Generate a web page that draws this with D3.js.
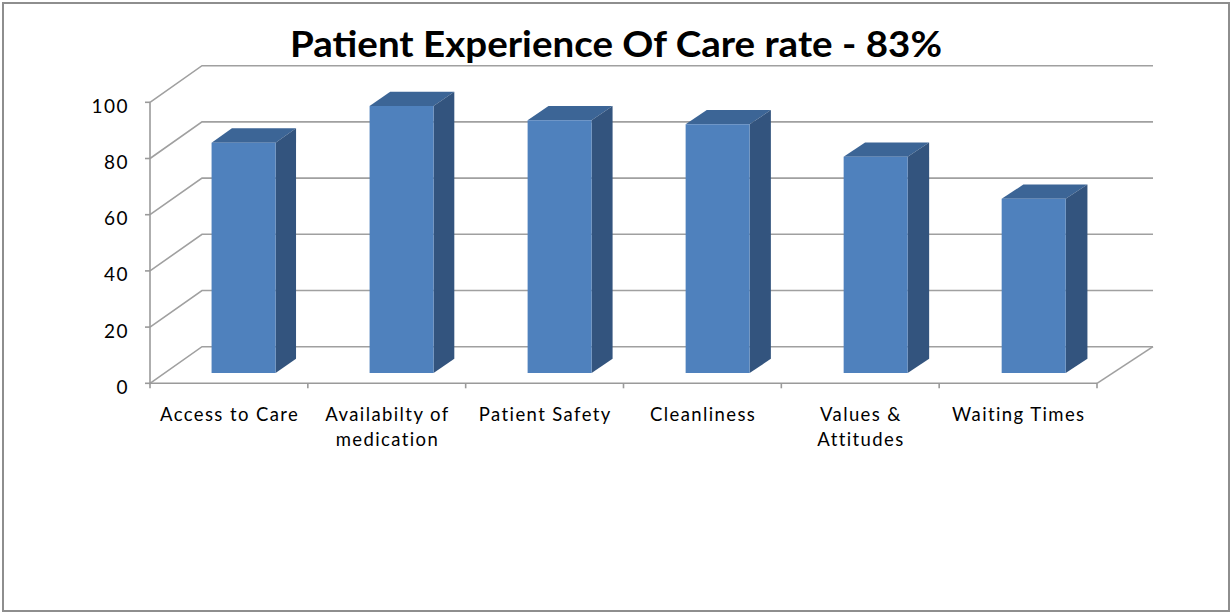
<!DOCTYPE html>
<html>
<head>
<meta charset="utf-8">
<script src="https://cdn.jsdelivr.net/npm/d3@7"></script>
<style>
  html, body { margin: 0; padding: 0; background: #fff; }
  svg { display: block; }
</style>
</head>
<body>
<div id="chart"></div>
<script>
// chart data
var categories = ["Access to Care", "Availabilty of medication", "Patient Safety", "Cleanliness", "Values & Attitudes", "Waiting Times"]
var labelLines = [["Access to Care"], ["Availabilty of", "medication"], ["Patient Safety"], ["Cleanliness"], ["Values &", "Attitudes"], ["Waiting Times"]]
var scores = [82, 95, 90, 88.5, 77, 62]
var yTicks = [0, 20, 40, 60, 80, 100]
var title = "Patient Experience Of Care rate - 83%"

var W = 1232, H = 614
var X0 = 150, X1 = 1097   // front floor edge
var Y0 = 383.3, Y1 = 102.3 // front value axis, 0 -> 100
var DEPTH_DY = 36.6
var BAR_Z0 = 0.28, BAR_Z1 = 0.67
var BAR_FRAC = 0.405

var svg = d3.select("#chart").append("svg")
	.attr("width", W).attr("height", H)

// outer frame
svg.append("rect")
	.attr("x", 3).attr("y", 3).attr("width", W - 6).attr("height", H - 6)
	.attr("fill", "#fff").attr("stroke", "#8e8e8e").attr("stroke-width", 2)

var x = d3.scaleBand().domain(categories).range([X0, X1]).padding(0)
var y = d3.scaleLinear().domain([0, 100]).range([Y0, Y1])

// oblique projection, a bit wider at the right like the original
function px(xv, z) { return xv + z * (52 + 4 * (xv - X0) / (X1 - X0)) }
function py(v, z) { return y(v) - z * DEPTH_DY }
function pt(xv, v, z) { return px(xv, z) + "," + py(v, z) }

var grid = svg.append("g").attr("fill", "none").attr("stroke", "#a0a0a0").attr("stroke-width", 1.6)

// side wall diagonals + back wall lines
yTicks.forEach(function(t) {
	grid.append("polyline")
		.attr("points", [pt(X0, t, 0), pt(X0, t, 1), pt(X1, t, 1)].join(" "))
})
// floor right edge
grid.append("line")
	.attr("x1", X1).attr("y1", y(0))
	.attr("x2", px(X1, 1)).attr("y2", py(0, 1))

// front axes
var axes = svg.append("g").attr("stroke", "#9a9a9a").attr("stroke-width", 1.6).attr("fill", "none")
axes.append("line").attr("x1", X0).attr("x2", X0).attr("y1", y(0) + 1).attr("y2", y(100))
axes.append("line").attr("x1", X0).attr("x2", X1).attr("y1", y(0)).attr("y2", y(0))
yTicks.forEach(function(t) {
	axes.append("line").attr("x1", X0 - 5).attr("x2", X0).attr("y1", y(t)).attr("y2", y(t))
})
d3.range(categories.length + 1).forEach(function(i) {
	let xv = X0 + i * x.step()
	axes.append("line").attr("x1", xv).attr("x2", xv).attr("y1", y(0)).attr("y2", y(0) + 5)
})

// y tick labels
svg.append("g").selectAll("text")
	.data(yTicks).enter().append("text")
	.attr("x", 129).attr("y", function(d) { return y(d) + 10.5 })
	.attr("text-anchor", "end")
	.attr("font-family", "Lato, 'Open Sans', sans-serif")
	.attr("font-size", 19)
	.attr("letter-spacing", 1.5)
	.attr("fill", "#000")
	.text(function(d) { return d })

// bars
var bars = svg.append("g").selectAll("g")
	.data(scores.map(function(v, i) { return { cat: categories[i], value: v } }))
	.enter().append("g")

bars.each(function(d) {
	let g = d3.select(this)
	let cx = x(d.cat) + x.bandwidth() / 2
	let w = x.bandwidth() * BAR_FRAC
	let l = cx - w / 2, r = cx + w / 2

	// top
	g.append("polygon")
		.attr("points", [pt(l, d.value, BAR_Z0), pt(r, d.value, BAR_Z0), pt(r, d.value, BAR_Z1), pt(l, d.value, BAR_Z1)].join(" "))
		.attr("fill", "#3c6596")
	// right side
	g.append("polygon")
		.attr("points", [pt(r, d.value, BAR_Z0), pt(r, d.value, BAR_Z1), pt(r, 0, BAR_Z1), pt(r, 0, BAR_Z0)].join(" "))
		.attr("fill", "#33547e")
	// front
	g.append("polygon")
		.attr("points", [pt(l, d.value, BAR_Z0), pt(r, d.value, BAR_Z0), pt(r, 0, BAR_Z0), pt(l, 0, BAR_Z0)].join(" "))
		.attr("fill", "#4f81bd")
})

// category labels
var labels = svg.append("g")
	.attr("font-family", "Lato, 'Open Sans', sans-serif")
	.attr("font-size", 18.5)
	.attr("letter-spacing", 1.4)
	.attr("fill", "#000")
	.attr("text-anchor", "middle")

labelLines.forEach(function(lines, i) {
	let cx = x(categories[i]) + x.bandwidth() / 2 + 0.7
	let t = labels.append("text").attr("x", cx).attr("y", 421)
	lines.forEach(function(s, k) {
		t.append("tspan").attr("x", cx).attr("dy", k == 0 ? 0 : 24.5).text(s)
	})
})

// title
svg.append("text")
	.attr("x", 616).attr("y", 57)
	.attr("text-anchor", "middle")
	.attr("font-family", "Lato, 'Open Sans', sans-serif")
	.attr("font-weight", "bold")
	.attr("font-size", 37)
	.attr("fill", "#000")
	.attr("textLength", 652)
	.attr("lengthAdjust", "spacingAndGlyphs")
	.text(title)
</script>
</body>
</html>
